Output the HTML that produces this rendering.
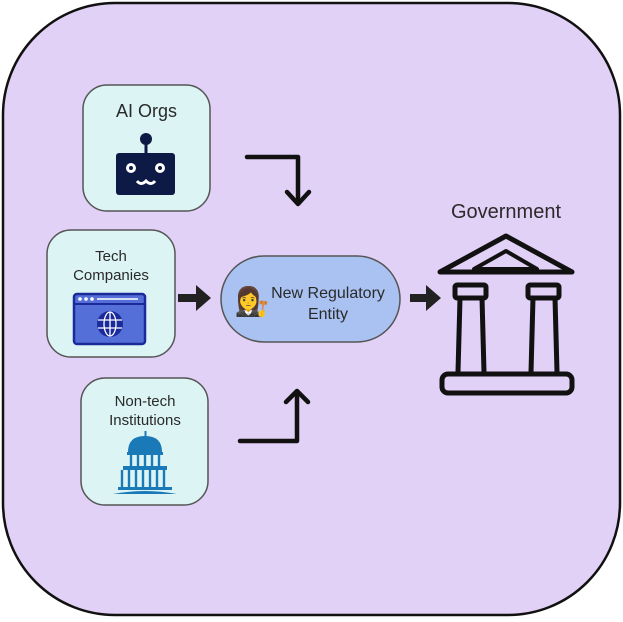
<!DOCTYPE html>
<html><head><meta charset="utf-8"><style>
html,body{margin:0;padding:0;background:#fff;width:623px;height:622px;overflow:hidden}
svg text{font-family:"Liberation Sans","DejaVu Sans",sans-serif;fill:#2a2a2a}
</style></head><body>
<svg width="623" height="622" viewBox="0 0 623 622" xmlns="http://www.w3.org/2000/svg">
<rect x="3" y="3" width="617" height="612" rx="112" ry="112" fill="#e2d1f6" stroke="#111" stroke-width="2.5"/>
<!-- AI Orgs -->
<rect x="83" y="85" width="127" height="126" rx="24" fill="#dcf4f4" stroke="#555" stroke-width="1.5"/>
<text x="146.5" y="117" font-size="18" text-anchor="middle">AI Orgs</text>
<circle cx="146" cy="139" r="6" fill="#0d1a45"/>
<rect x="144.5" y="140" width="3" height="14" fill="#0d1a45"/>
<rect x="116" y="153" width="59" height="42" rx="3" fill="#0d1a45"/>
<circle cx="131" cy="168" r="5" fill="#fff"/><circle cx="131" cy="168" r="2" fill="#0d1a45"/>
<circle cx="160" cy="168" r="5" fill="#fff"/><circle cx="160" cy="168" r="2" fill="#0d1a45"/>
<path d="M137 181 q4 5 9 0 q5 5 9 0" stroke="#fff" stroke-width="3" fill="none"/>
<!-- Tech Companies -->
<rect x="47" y="230" width="128" height="127" rx="24" fill="#dcf4f4" stroke="#555" stroke-width="1.5"/>
<text x="111" y="261" font-size="15" text-anchor="middle">Tech</text>
<text x="111" y="280" font-size="15" text-anchor="middle">Companies</text>
<rect x="74" y="294" width="71" height="50" rx="3" fill="#5470d8" stroke="#1a2a9a" stroke-width="2.5"/>
<line x1="74" y1="304" x2="145" y2="304" stroke="#1a2a9a" stroke-width="2"/>
<circle cx="80" cy="299" r="1.8" fill="#fff"/><circle cx="86" cy="299" r="1.8" fill="#fff"/><circle cx="92" cy="299" r="1.8" fill="#fff"/>
<line x1="97" y1="299" x2="138" y2="299" stroke="#fff" stroke-width="1.5"/>
<circle cx="110" cy="324" r="13" fill="#1a2a9a"/>
<g stroke="#fff" stroke-width="1.3" fill="none"><line x1="98" y1="320" x2="122" y2="320"/><line x1="98" y1="328" x2="122" y2="328"/><line x1="110" y1="312" x2="110" y2="336"/><ellipse cx="110" cy="324" rx="6" ry="12"/></g>
<!-- Non-tech -->
<rect x="81" y="378" width="127" height="127" rx="24" fill="#dcf4f4" stroke="#555" stroke-width="1.5"/>
<text x="145" y="406" font-size="15" text-anchor="middle">Non-tech</text>
<text x="145" y="425" font-size="15" text-anchor="middle">Institutions</text>
<g fill="#1a7ab8">
<rect x="144.5" y="431" width="2" height="7"/>
<path d="M128 452 q0 -16 17 -16 q17 0 17 16z"/>
<rect x="127" y="452" width="36" height="3"/>
<rect x="123" y="466" width="44" height="4"/>
<rect x="118" y="487" width="54" height="3"/>
<path d="M113 494 q32 -6 64 0z"/>
</g>
<g stroke="#1a7ab8" stroke-width="2.4">
<line x1="131" y1="455" x2="131" y2="466"/><line x1="138" y1="455" x2="138" y2="466"/><line x1="145" y1="455" x2="145" y2="466"/><line x1="152" y1="455" x2="152" y2="466"/><line x1="159" y1="455" x2="159" y2="466"/>
<line x1="122" y1="470" x2="122" y2="487"/><line x1="129" y1="470" x2="129" y2="487"/><line x1="136" y1="470" x2="136" y2="487"/><line x1="143" y1="470" x2="143" y2="487"/><line x1="150" y1="470" x2="150" y2="487"/><line x1="157" y1="470" x2="157" y2="487"/><line x1="164" y1="470" x2="164" y2="487"/>
</g>
<!-- center -->
<rect x="221" y="256" width="179" height="86" rx="43" fill="#a9c2f2" stroke="#555" stroke-width="1.5"/>
<text x="252" y="311" font-size="28" text-anchor="middle" font-family="Noto Color Emoji,sans-serif">👩‍⚖️</text>
<text x="328" y="298" font-size="16" text-anchor="middle">New Regulatory</text>
<text x="328" y="319" font-size="16" text-anchor="middle">Entity</text>
<!-- arrows -->
<g stroke="#111" stroke-width="4.5" fill="none" stroke-linejoin="round" stroke-linecap="round">
<path d="M247 157 H298 V203"/>
<path d="M287 192 L298 204 L309 192"/>
<path d="M240 441 H297 V392"/>
<path d="M286 402 L297 391 L308 402"/>
</g>
<g fill="#222">
<path d="M178 294 H196 V285 L211 298 L196 311 V302 H178z"/>
<path d="M410 294 H426 V285 L441 298 L426 311 V302 H410z"/>
</g>
<!-- Government -->
<text x="506" y="218" font-size="20" text-anchor="middle">Government</text>
<g stroke="#111" stroke-width="5" fill="none" stroke-linejoin="round">
<path d="M506 236 L572 272 L440 272 Z" fill="none"/>
<path d="M506 251 L537 269 L474 269 Z" stroke-width="4"/>
<rect x="455" y="285" width="31" height="13" rx="2"/>
<rect x="528" y="285" width="31" height="13" rx="2"/>
<path d="M460 298 L458 372 M482 298 L484 372"/>
<path d="M533 298 L531 372 M555 298 L557 372"/>
<rect x="442" y="374" width="130" height="19" rx="6"/>
</g>
</svg>
</body></html>
